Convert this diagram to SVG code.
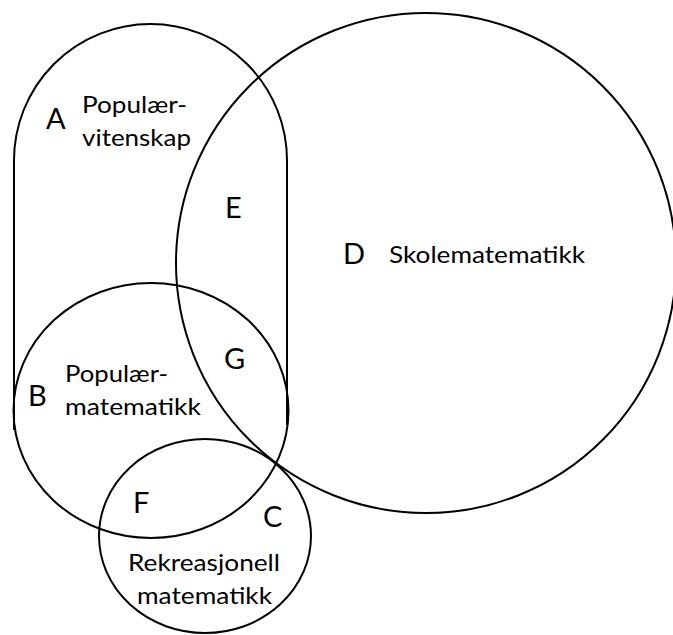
<svg xmlns="http://www.w3.org/2000/svg" width="673" height="635" viewBox="0 0 673 635">
<style>
.shape{fill:none;stroke:#000;stroke-width:2}
.let{font-family:Lato,"Open Sans","Liberation Sans",sans-serif;font-size:29px;fill:#000}
.lab{font-family:Lato,"Open Sans","Liberation Sans",sans-serif;font-size:24px;fill:#000}
</style>
<rect width="673" height="635" fill="#fff"/>
<g id="A">
<path class="shape" d="M14,430 V160.5 A136.5,136.5 0 0 1 287,160.5 V425"/>
<text class="let" x="46" y="129">A</text>
<text class="lab" x="82" y="113" textLength="105" lengthAdjust="spacingAndGlyphs">Populær-</text>
<text class="lab" x="82" y="146" textLength="109" lengthAdjust="spacingAndGlyphs">vitenskap</text>
</g>
<g id="D">
<circle class="shape" cx="426" cy="263" r="250"/>
<text class="let" x="343" y="264">D</text>
<text class="lab" x="389" y="263" textLength="196" lengthAdjust="spacingAndGlyphs">Skolematematikk</text>
</g>
<g id="B">
<ellipse class="shape" cx="151" cy="410.5" rx="137.5" ry="127.5"/>
<text class="let" x="28" y="406">B</text>
<text class="lab" x="65" y="382" textLength="103" lengthAdjust="spacingAndGlyphs">Populær-</text>
<text class="lab" x="65" y="415" textLength="136" lengthAdjust="spacingAndGlyphs">matematikk</text>
</g>
<g id="C">
<ellipse class="shape" cx="205" cy="536" rx="106" ry="97"/>
<text class="let" x="263" y="527">C</text>
<text class="lab" x="128" y="571" textLength="152" lengthAdjust="spacingAndGlyphs">Rekreasjonell</text>
<text class="lab" x="137" y="604" textLength="135" lengthAdjust="spacingAndGlyphs">matematikk</text>
</g>
<g id="E"><text class="let" x="225" y="218">E</text></g>
<g id="G"><text class="let" x="224" y="369">G</text></g>
<g id="F"><text class="let" x="133" y="513">F</text></g>
<g id="connectors"></g>
</svg>
